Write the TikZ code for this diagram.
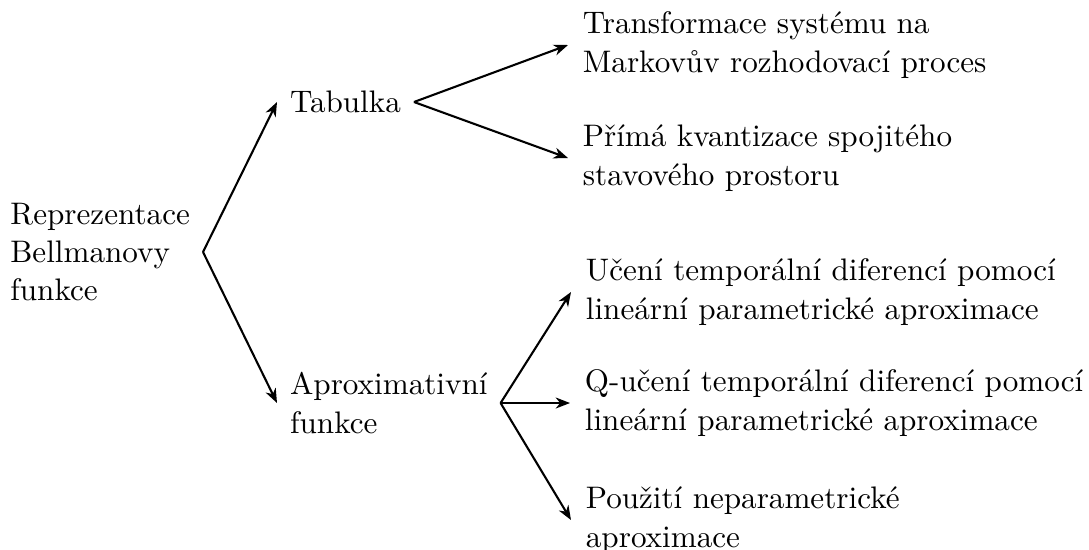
\documentclass[tikz,border=0pt]{standalone}
\usetikzlibrary{arrows.meta}
\begin{document}
\begin{tikzpicture}[x=0.3356pt,y=-0.3356pt,
    txt/.style={inner xsep=4.2pt,inner ysep=2pt,align=left,
      font=\fontsize{10.45}{12.9}\selectfont},
    leaf/.style={txt,inner xsep=4.8pt},
    link/.style={line width=0.7pt,-{Stealth[length=4.8pt,width=3.7pt,inset=1.5pt]}}]
  \useasboundingbox (0,0) rectangle (1089,549);

  % root and the two kinds of representation
  \node[txt,anchor=east] (root) at (203,252) {Reprezentace\\Bellmanovy\\funkce};
  \node[txt,anchor=west] (tab) at (277,102) {Tabulka};
  \node[txt,anchor=west] (apx) at (277,403) {Aproximativní\\funkce};

  % table-based methods
  \node[leaf,anchor=west] (t1) at (568,45) {Transformace systému na\\Markovův rozhodovací proces};
  \node[leaf,anchor=west] (t2) at (568,158) {Přímá kvantizace spojitého\\stavového prostoru};

  % approximation-based methods
  \node[leaf,anchor=west] (a1) at (571,292) {Učení temporální diferencí pomocí\\lineární parametrické aproximace};
  \node[leaf,anchor=west] (a2) at (570,403) {Q-učení temporální diferencí pomocí\\lineární parametrické aproximace};
  \node[leaf,anchor=west] (a3) at (571,520) {Použití neparametrické\\aproximace};

  \draw[link] (root.east) -- (tab.west);
  \draw[link] (root.east) -- (apx.west);
  \draw[link] (tab.east) -- (t1.west);
  \draw[link] (tab.east) -- (t2.west);
  \draw[link] (apx.east) -- (a1.west);
  \draw[link] (apx.east) -- (a2.west);
  \draw[link] (apx.east) -- (a3.west);
\end{tikzpicture}
\end{document}
